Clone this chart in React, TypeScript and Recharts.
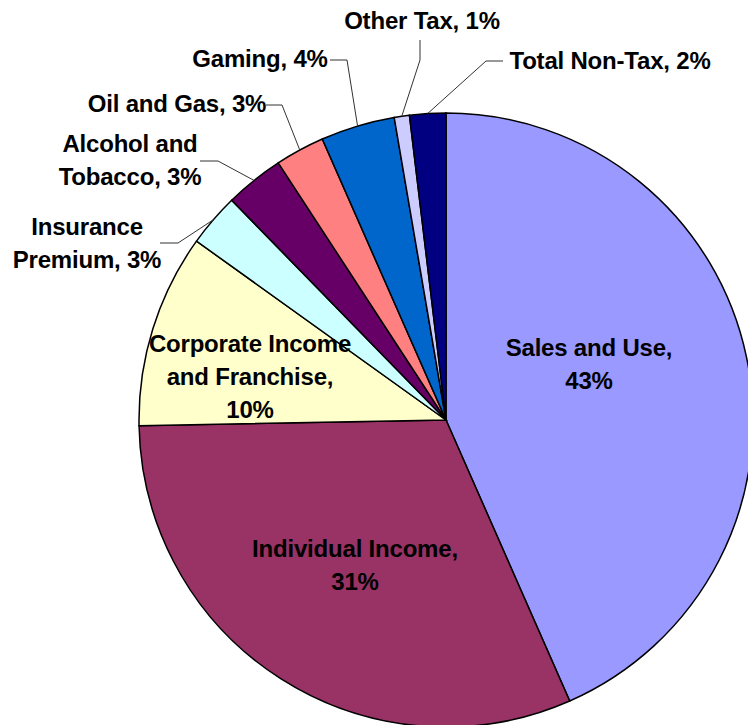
import React from 'react'
import { PieChart, Pie, Cell } from 'recharts'

// revenue sources, share of total (%), clockwise from 12 o'clock
const categories = [
  'Sales and Use',
  'Individual Income',
  'Corporate Income and Franchise',
  'Insurance Premium',
  'Alcohol and Tobacco',
  'Oil and Gas',
  'Gaming',
  'Other Tax',
  'Total Non-Tax',
]
const shares = [43.4, 31.3, 10.2, 2.8, 3.1, 2.6, 3.9, 0.8, 1.9]
const colors = ['#9999FF', '#993366', '#FFFFCC', '#CCFFFF', '#660066', '#FF8080', '#0066CC', '#CCCCFF', '#000080']

const data = categories.map((name, i) => ({ name, value: shares[i] }))

const CX = 446
const CY = 420
const R = 307
const FONT = '"Liberation Sans", Arial, sans-serif'
const LINE_H = 33

// label layout: words per line, label centre, optional leader elbow + end
type LabelLayout = { words: number[]; x: number; y: number; leader?: [number, number, number, number] }
const labelLayout: LabelLayout[] = [
  { words: [3, 1], x: 589, y: 347 },
  { words: [2, 1], x: 355, y: 548 },
  { words: [2, 2, 1], x: 250, y: 343 },
  { words: [1, 2], x: 87, y: 226, leader: [178, 243, 160, 243] },
  { words: [2, 2], x: 130, y: 143, leader: [218, 161, 200, 161] },
  { words: [4], x: 177, y: 103, leader: [282, 105, 266, 105] },
  { words: [2], x: 260, y: 58, leader: [347, 60, 330, 60] },
  { words: [3], x: 422, y: 20, leader: [420, 60, 420, 40] },
  { words: [3], x: 610, y: 60, leader: [486, 61, 503, 61] },
]

const RAD = Math.PI / 180

function renderLabel(props: any) {
  const { cx, cy, midAngle, outerRadius, percent, index, name } = props
  const layout = labelLayout[index]
  const tokens = `${name}, ${Math.round(percent * 100)}%`.split(' ')
  const lines: string[] = []
  let k = 0
  for (const n of layout.words) {
    lines.push(tokens.slice(k, k + n).join(' '))
    k += n
  }
  let leader = null
  if (layout.leader) {
    const sx = cx + outerRadius * Math.cos(-midAngle * RAD)
    const sy = cy + outerRadius * Math.sin(-midAngle * RAD)
    const [ex, ey, fx, fy] = layout.leader
    leader = (
      <polyline points={`${sx},${sy} ${ex},${ey} ${fx},${fy}`} fill="none" stroke="#333" strokeWidth={1} />
    )
  }
  return (
    <g key={`lbl-${index}`}>
      {leader}
      {lines.map((t, i) => (
        <text
          key={i}
          x={layout.x}
          y={layout.y + i * LINE_H}
          textAnchor="middle"
          dominantBaseline="central"
          fontFamily={FONT}
          fontWeight="bold"
          fontSize={24}
          letterSpacing={-0.2}
          fill="#000"
        >
          {t}
        </text>
      ))}
    </g>
  )
}

export default function App() {
  return (
    <div style={{ position: 'absolute', left: 0, top: 0, width: 748, height: 725, background: '#fff', overflow: 'hidden' }}>
      <PieChart width={748} height={725} margin={{ top: 0, right: 0, bottom: 0, left: 0 }}>
        <Pie
          data={data}
          dataKey="value"
          nameKey="name"
          cx={CX}
          cy={CY}
          outerRadius={R}
          startAngle={90}
          endAngle={-270}
          stroke="#000"
          strokeWidth={1.5}
          label={renderLabel}
          labelLine={false}
          isAnimationActive={false}
        >
          {data.map((d, i) => (
            <Cell key={d.name} fill={colors[i]} />
          ))}
        </Pie>
      </PieChart>
    </div>
  )
}
